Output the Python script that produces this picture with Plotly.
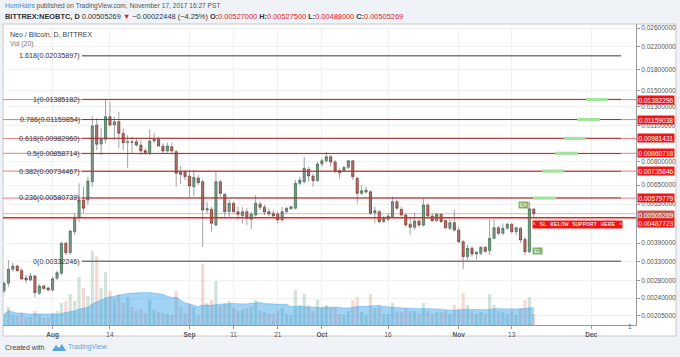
import numpy as np
import pandas as pd
import plotly.graph_objects as go

# ---------------- data ----------------
dates = pd.date_range("2017-07-21", periods=121, freq="D")

open_ = [0.002555, 0.002734, 0.003094, 0.003185, 0.003060, 0.002866, 0.002815, 0.002917, 0.002504, 0.002670,
         0.002623, 0.002577, 0.002858, 0.002987, 0.003892, 0.003582, 0.004311, 0.004895, 0.005701, 0.005701,
         0.006699, 0.011049, 0.009344, 0.009739, 0.011891, 0.011049, 0.011378, 0.010270, 0.009485, 0.009510,
         0.009536, 0.009260, 0.008807, 0.008654, 0.009594, 0.009739, 0.009180, 0.008784, 0.009124, 0.008730,
         0.007279, 0.007279, 0.007045, 0.006410, 0.006922, 0.006699, 0.005220, 0.005253, 0.004572, 0.006699,
         0.005993, 0.005143, 0.005537, 0.005143, 0.004964, 0.005143, 0.004809, 0.004994, 0.005504, 0.005347,
         0.005143, 0.005071, 0.005039, 0.004779, 0.005143, 0.005281, 0.005300, 0.006606, 0.006699, 0.007473,
         0.007045, 0.006758, 0.007832, 0.008061, 0.008354, 0.007972, 0.007381, 0.007381, 0.007605, 0.008061,
         0.006903, 0.006047, 0.006112, 0.006129, 0.005098, 0.005143, 0.004709, 0.004809, 0.004921, 0.005617,
         0.005253, 0.004994, 0.004601, 0.004482, 0.004738, 0.004572, 0.005455, 0.004951, 0.004750, 0.005026,
         0.004750, 0.004442, 0.004667, 0.004375, 0.003947, 0.003458, 0.003723, 0.003541, 0.003562, 0.003754,
         0.003645, 0.004067, 0.004466, 0.004250, 0.004442, 0.004601, 0.004311, 0.004442, 0.004031, 0.003613,
         0.005270]
high = [0.002791, 0.003358, 0.003280, 0.003213, 0.003122, 0.002942, 0.002987, 0.002942, 0.002717, 0.002700,
        0.002654, 0.002899, 0.003056, 0.003947, 0.003947, 0.004375, 0.005071, 0.006606, 0.006410, 0.007002,
        0.011964, 0.011724, 0.010762, 0.013852, 0.013573, 0.011891, 0.012426, 0.010733, 0.010115, 0.009966,
        0.009827, 0.009678, 0.008996, 0.010638, 0.010270, 0.009966, 0.009402, 0.009452, 0.009452, 0.008860,
        0.007695, 0.007426, 0.007426, 0.007426, 0.007106, 0.006799, 0.005617, 0.005375, 0.007317, 0.006799,
        0.006047, 0.005701, 0.005617, 0.005375, 0.005347, 0.005300, 0.005143, 0.005956, 0.005617, 0.005455,
        0.005300, 0.005220, 0.005143, 0.005375, 0.005375, 0.005408, 0.006799, 0.007002, 0.008354, 0.007648,
        0.007215, 0.007993, 0.008236, 0.008730, 0.008478, 0.008112, 0.007540, 0.007695, 0.008112, 0.008112,
        0.007002, 0.006506, 0.006410, 0.006225, 0.005375, 0.005220, 0.004951, 0.005039, 0.005869, 0.005701,
        0.005375, 0.005071, 0.004921, 0.005098, 0.004809, 0.005788, 0.005537, 0.005071, 0.005098, 0.005071,
        0.004809, 0.004809, 0.005220, 0.004505, 0.004006, 0.003833, 0.003799, 0.003645, 0.003799, 0.003799,
        0.004809, 0.004809, 0.004529, 0.004642, 0.004667, 0.004667, 0.004505, 0.004505, 0.004125, 0.005617,
        0.005275]
low = [0.002510, 0.002654, 0.003030, 0.003030, 0.002815, 0.002734, 0.002773, 0.002417, 0.002466, 0.002593,
       0.002555, 0.002539, 0.002815, 0.002942, 0.003509, 0.003509, 0.004186, 0.004709, 0.005071, 0.005455,
       0.006410, 0.008860, 0.008478, 0.009402, 0.010886, 0.009678, 0.008996, 0.008860, 0.007540, 0.008631,
       0.009124, 0.008478, 0.008478, 0.008478, 0.009402, 0.009124, 0.008608, 0.008654, 0.008608, 0.006410,
       0.006565, 0.006799, 0.005839, 0.005905, 0.006506, 0.003774, 0.005071, 0.004311, 0.004505, 0.005869,
       0.004921, 0.004921, 0.005071, 0.004779, 0.004642, 0.004572, 0.004405, 0.004921, 0.005220, 0.004994,
       0.004921, 0.004852, 0.004642, 0.004709, 0.005071, 0.005220, 0.005253, 0.006506, 0.006606, 0.006699,
       0.006410, 0.006699, 0.007648, 0.007923, 0.007648, 0.007215, 0.006903, 0.007317, 0.007473, 0.006799,
       0.005537, 0.005956, 0.006047, 0.004994, 0.004642, 0.004642, 0.004667, 0.004709, 0.004852, 0.005220,
       0.004921, 0.004505, 0.004186, 0.004375, 0.004505, 0.004505, 0.004852, 0.004709, 0.004709, 0.004667,
       0.004405, 0.004375, 0.004311, 0.003892, 0.003094, 0.003358, 0.003458, 0.003378, 0.003509, 0.003582,
       0.003509, 0.004031, 0.004186, 0.004186, 0.004375, 0.004250, 0.004186, 0.003902, 0.003509, 0.003562,
       0.004880]
close = [0.002734, 0.003094, 0.003185, 0.003056, 0.002840, 0.002815, 0.002917, 0.002517, 0.002670, 0.002607,
         0.002577, 0.002848, 0.003003, 0.003892, 0.003582, 0.004337, 0.004895, 0.005701, 0.005300, 0.006740,
         0.010953, 0.009318, 0.009792, 0.011891, 0.011049, 0.011378, 0.010270, 0.009452, 0.009536, 0.009500,
         0.009260, 0.008784, 0.008654, 0.009594, 0.009739, 0.009180, 0.008784, 0.009180, 0.008784, 0.007215,
         0.007151, 0.007002, 0.006450, 0.006965, 0.006641, 0.005220, 0.005281, 0.004642, 0.006699, 0.006047,
         0.005143, 0.005537, 0.005143, 0.005026, 0.005143, 0.004852, 0.005026, 0.005537, 0.005347, 0.005130,
         0.005039, 0.004951, 0.004779, 0.005143, 0.005300, 0.005375, 0.006606, 0.006799, 0.007540, 0.007045,
         0.006758, 0.007832, 0.008061, 0.008354, 0.007972, 0.007381, 0.007253, 0.007605, 0.008061, 0.007002,
         0.006047, 0.006185, 0.006225, 0.005071, 0.005188, 0.004709, 0.004852, 0.004951, 0.005617, 0.005300,
         0.004994, 0.004572, 0.004482, 0.004738, 0.004572, 0.005455, 0.004951, 0.004750, 0.005026, 0.004709,
         0.004466, 0.004667, 0.004375, 0.003947, 0.003458, 0.003723, 0.003541, 0.003594, 0.003754, 0.003626,
         0.004067, 0.004466, 0.004250, 0.004442, 0.004601, 0.004311, 0.004466, 0.004006, 0.003613, 0.005277,
         0.005053]
volume = [1100, 1800, 1000, 900, 1200, 800, 800, 1400, 1000, 700, 700, 1200, 1400,
          2200, 2400, 3100, 2400, 4800, 3700, 2900,
          7400, 6900, 3700, 5300, 3400, 2600, 3100, 2200, 2800, 1800,
          1400, 1600, 1200, 2500, 1500, 1300, 1200, 1100, 1000,
          3400, 1800, 1200, 2000, 1800, 1000,
          6100, 2200, 2500, 4400, 1900, 2200, 2400,
          1700, 1400, 1500, 1700, 1800, 2500, 1400, 1300, 1100, 1100, 1400, 1700, 1100, 1000,
          3500, 2000, 3100, 2000, 1400, 2500, 1700, 2000, 1700, 1800, 1100, 1000, 1400, 2500,
          2800, 1300, 1000, 3100, 1700, 1800, 1100, 1100, 2200, 1400, 1300, 1700, 1400, 1400, 1100,
          2200, 1400, 1100, 1300, 1300, 1400, 1100, 2000, 1700, 3200, 2000, 1400, 1100, 1300, 1100,
          3100, 2000, 1400, 1300, 1100, 1400, 1000, 1700, 2500, 2800, 1100]

fib_ratios = ["1.618", "1", "0.786", "0.618", "0.5", "0.382", "0.236", "0"]
fib_prices = [0.02035897, 0.01385182, 0.01159854, 0.00982960, 0.00858714, 0.00734467, 0.00580739, 0.00332246]
fib_start = "2017-08-07 16:00"
fib_end = "2017-12-07 18:00"

level_prices = [0.01382296, 0.01159038, 0.00981431, 0.00860718, 0.00735846, 0.00579779]
target_start = ["2017-11-29 19:00", "2017-11-27 19:00", "2017-11-24 19:00",
                "2017-11-22 19:00", "2017-11-19 22:00", "2017-11-17 19:00"]
target_end = ["2017-12-04 19:00", "2017-12-03 00:00", "2017-11-29 19:00",
              "2017-11-28 00:00", "2017-11-24 19:00", "2017-11-23 00:00"]
support_price = 0.00487723
last_price = 0.00505269

ytick_vals = [0.026, 0.022, 0.018, 0.015, 0.013, 0.011, 0.008, 0.0065, 0.0055,
              0.0039, 0.0033, 0.0028, 0.0024, 0.00205]
xtick_dates = ["2017-08-01", "2017-08-14", "2017-09-01", "2017-09-11", "2017-09-21",
               "2017-10-01", "2017-10-16", "2017-11-01", "2017-11-13", "2017-12-01"]
xtick_text = ["<b>Aug</b>", "14", "<b>Sep</b>", "11", "21", "<b>Oct</b>", "16", "<b>Nov</b>", "13", "<b>Dec</b>"]

# ---------------- helpers for layout positions ----------------
L, R, T, B = 3, 636, 24, 325
def px(xp):
    return (xp - L) / (R - L)
def py(yp):
    return (B - yp) / (B - T)

FONT = "Liberation Sans"
UP, DOWN = "#6ba583", "#d75442"

fig = go.Figure()

# volume (main linear axis, hidden)
vol_colors = ["rgba(107,165,131,0.30)" if c >= o else "rgba(215,84,66,0.22)" for o, c in zip(open_, close)]
fig.add_trace(go.Bar(x=dates, y=volume, marker_color=vol_colors, marker_line_width=0,
                     width=0.72 * 86400000, yaxis="y", hoverinfo="skip"))
vol_ma = pd.Series(volume).rolling(20, min_periods=1).mean()
fig.add_trace(go.Scatter(x=dates, y=vol_ma, mode="lines", fill="tozeroy",
                         line=dict(color="rgba(30,150,230,0.55)", width=0.6),
                         fillcolor="rgba(30,150,230,0.42)", yaxis="y", hoverinfo="skip"))

# wicks
wx, wy = [], []
for d, h, l in zip(dates, high, low):
    wx += [d, d, None]
    wy += [l, h, None]
fig.add_trace(go.Scatter(x=wx, y=wy, mode="lines", line=dict(color="#8a8a8c", width=0.8),
                         yaxis="y2", hoverinfo="skip"))
# bodies
body_hi = np.maximum(open_, close)
body_lo = np.minimum(open_, close)
fig.add_trace(go.Candlestick(x=dates, open=open_, high=body_hi, low=body_lo, close=close, yaxis="y2",
                             increasing=dict(fillcolor=UP, line=dict(color="#225437", width=0.6)),
                             decreasing=dict(fillcolor=DOWN, line=dict(color="#5b1a13", width=0.6)),
                             whiskerwidth=0, hoverinfo="skip"))

x_left = pd.Timestamp("2017-07-21") - pd.Timedelta(days=0.23)
x_right = pd.Timestamp("2017-07-21") + pd.Timedelta(days=143.15)

# horizontal levels (full width)
for p in level_prices:
    fig.add_trace(go.Scatter(x=[x_left, x_right], y=[p, p], mode="lines",
                             line=dict(color="rgba(225,80,80,0.75)", width=1), yaxis="y2", hoverinfo="skip"))
fig.add_trace(go.Scatter(x=[x_left, x_right], y=[last_price, last_price], mode="lines",
                         line=dict(color="rgba(215,84,66,0.45)", width=1), yaxis="y2", hoverinfo="skip"))
fig.add_trace(go.Scatter(x=[x_left, x_right], y=[support_price, support_price], mode="lines",
                         line=dict(color="#f02020", width=1.6), yaxis="y2", hoverinfo="skip"))

# fib lines
for r, p in zip(fib_ratios, fib_prices):
    gray = r in ("1.618", "0")
    fig.add_trace(go.Scatter(x=[fib_start, fib_end], y=[p, p], mode="lines",
                             line=dict(color="#7a7a7a" if gray else "rgba(140,40,40,0.85)",
                                       width=1.6 if gray else 1),
                             yaxis="y2", hoverinfo="skip"))

# green target bars
for s, e, p in zip(target_start, target_end, level_prices):
    fig.add_trace(go.Scatter(x=[s, e], y=[p, p], mode="lines",
                             line=dict(color="#a2e49c", width=3.2), yaxis="y2", hoverinfo="skip"))

ann = []
# fib labels
for r, p in zip(fib_ratios, fib_prices):
    ann.append(dict(x=px(81.5), xref="paper", xanchor="right", y=np.log10(p), yref="y2",
                    yanchor="middle", text=f"{r}({p:.8f})", showarrow=False,
                    font=dict(family=FONT, size=7.2, color="#333")))
# price tags
for p in level_prices:
    ann.append(dict(x=px(637), xref="paper", xanchor="left", y=np.log10(p), yref="y2",
                    yanchor="middle", text=f"{p:.8f}", showarrow=False, bgcolor="#f01515",
                    width=36, height=8, borderpad=0,
                    font=dict(family=FONT, size=6.6, color="white")))
ann.append(dict(x=px(637), xref="paper", xanchor="left", y=np.log10(last_price), yref="y2",
                yanchor="middle", yshift=-1, text=f"{last_price:.8f}", showarrow=False, bgcolor="#c45a52",
                width=36, height=8, borderpad=0, font=dict(family=FONT, size=6.6, color="white")))
ann.append(dict(x=px(637), xref="paper", xanchor="left", y=np.log10(support_price), yref="y2",
                yanchor="middle", yshift=-5, text=f"{support_price:.8f}", showarrow=False, bgcolor="#f01515",
                width=36, height=8, borderpad=0, font=dict(family=FONT, size=6.6, color="white")))
# SL box
ann.append(dict(x="2017-11-17 14:00", xref="x", xanchor="left", y=np.log10(support_price), yref="y2",
                yanchor="middle", yshift=-6.5, text="^ SL BELOW SUPPORT HERE ^", showarrow=False,
                bgcolor="#f01515", width=89, height=7, borderpad=0,
                font=dict(family="Liberation Mono", size=6, color="white")))
# EH / EL
ann.append(dict(x="2017-11-15 17:00", xref="x", y=np.log10(0.005455), yref="y2", text="EH",
                showarrow=False, bgcolor="rgba(106,168,79,0.85)", width=9, height=6, borderpad=0,
                font=dict(family=FONT, size=5, color="white")))
ann.append(dict(x="2017-11-18 19:00", xref="x", y=np.log10(0.003635), yref="y2", text="EL",
                showarrow=False, bgcolor="rgba(106,168,79,0.85)", width=9, height=6, borderpad=0,
                font=dict(family=FONT, size=5, color="white")))
# x label "1" clipped at the right edge
ann.append(dict(x=px(633.5), xref="paper", y=py(331.5), yref="paper", text="1", showarrow=False,
                font=dict(family=FONT, size=6.5, color="#555")))
# header
ann.append(dict(x=0, xref="paper", xanchor="left", y=py(6), yref="paper", yanchor="middle",
                text="<span style='color:#3b8fd3'>HornHairs</span> published on TradingView.com, November 17, 2017 16:27 PST",
                showarrow=False, font=dict(family=FONT, size=6.6, color="#555")))
red = "#e01e1e"
hdr2 = ("<b>BITTREX:NEOBTC, D</b> 0.00505269 "
        f"<span style='color:{red}'>▼</span> −0.00022448 (−4.25%) "
        f"<b>O:</b><span style='color:{red}'>0.00527000</span> "
        f"<b>H:</b><span style='color:{red}'>0.00527500</span> "
        f"<b>L:</b><span style='color:{red}'>0.00488000</span> "
        f"<b>C:</b><span style='color:{red}'>0.00505269</span>")
ann.append(dict(x=0, xref="paper", xanchor="left", y=py(16), yref="paper", yanchor="middle",
                text=hdr2, showarrow=False, font=dict(family=FONT, size=7.4, color="#333")))
ann.append(dict(x=px(8), xref="paper", xanchor="left", y=py(34), yref="paper", yanchor="middle",
                text="Neo / Bitcoin, D, BITTREX", showarrow=False, font=dict(family=FONT, size=7, color="#444")))
ann.append(dict(x=px(8), xref="paper", xanchor="left", y=py(44), yref="paper", yanchor="middle",
                text="Vol (20)", showarrow=False, font=dict(family=FONT, size=6.8, color="#777")))
# footer
ann.append(dict(x=px(3), xref="paper", xanchor="left", y=py(347), yref="paper", yanchor="middle",
                text="Created with", showarrow=False, font=dict(family=FONT, size=7, color="#444")))
ann.append(dict(x=px(66), xref="paper", xanchor="left", y=py(347), yref="paper", yanchor="middle",
                text="TradingView", showarrow=False, font=dict(family=FONT, size=7, color="#5aa6dc")))

shapes = [
    dict(type="rect", xref="paper", yref="paper", x0=px(3), x1=px(676), y0=py(336), y1=py(24),
         fillcolor="white", line=dict(color="#c8c8c8", width=1), layer="below"),
    dict(type="path", xref="paper", yref="paper",
         path=(f"M {px(52)},{py(351)} L {px(56)},{py(345)} L {px(59)},{py(348)} "
               f"L {px(62)},{py(344)} L {px(66)},{py(351)} Z"),
         fillcolor="#5aa6dc", line=dict(width=0), layer="above"),
]

fig.update_layout(
    width=680, height=357, margin=dict(l=L, r=680 - R, t=T, b=357 - B),
    paper_bgcolor="#eff2f6", plot_bgcolor="white", showlegend=False,
    annotations=ann, shapes=shapes, hovermode=False,
    xaxis=dict(type="date", range=[x_left, x_right], rangeslider=dict(visible=False),
               tickvals=xtick_dates, ticktext=xtick_text, showgrid=True, gridcolor="#f1f1f1",
               ticks="outside", ticklen=3, tickcolor="#999", showline=True, linecolor="#9a9a9a",
               tickfont=dict(family=FONT, size=6.5, color="#555"), fixedrange=True),
    yaxis=dict(range=[0, 30100], visible=False, fixedrange=True),
    yaxis2=dict(type="log", overlaying="y", side="right",
                range=[np.log10(0.0018927), np.log10(0.026934)],
                tickvals=ytick_vals, ticktext=[f"{v:.8f}" for v in ytick_vals],
                showgrid=True, gridcolor="#f1f1f1", ticks="outside", ticklen=3, tickcolor="#999",
                showline=True, linecolor="#9a9a9a", zeroline=False,
                tickfont=dict(family=FONT, size=6.5, color="#555"), fixedrange=True),
)

fig.write_html("out.html", config={"displayModeBar": False},
               post_script="document.body.style.margin='0px';document.body.style.overflow='hidden';")
